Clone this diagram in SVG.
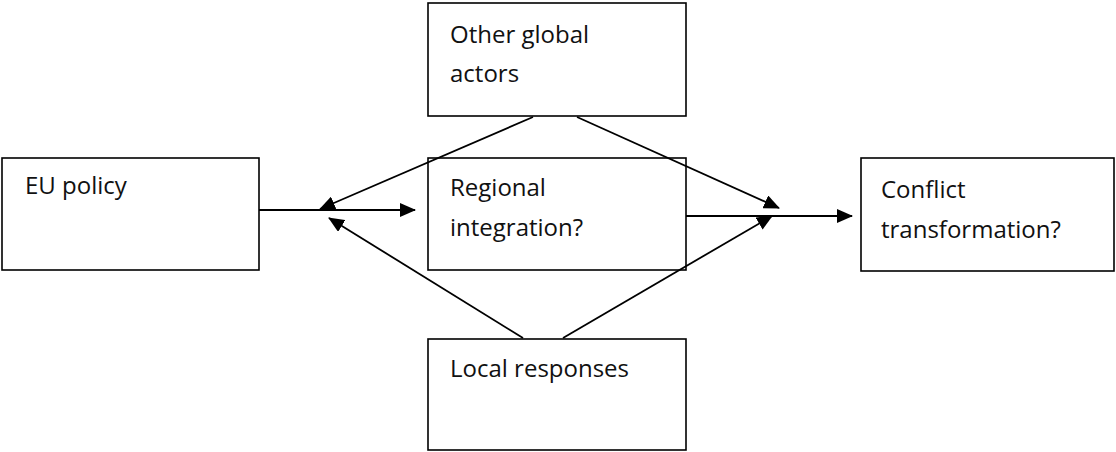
<svg xmlns="http://www.w3.org/2000/svg" width="1116" height="452" viewBox="0 0 1116 452">
<style>
.box{fill:#fff;stroke:#000;stroke-width:1.6}
.lbl{font-family:"Open Sans",Lato,sans-serif;font-size:24px;fill:#111}
.con{stroke:#000;stroke-width:1.8;fill:none;marker-end:url(#ah)}
</style>
<defs>
<marker id="ah" markerUnits="userSpaceOnUse" markerWidth="16" markerHeight="14" refX="15" refY="7" orient="auto">
<path d="M0,0 L16,7 L0,14 Z" fill="#000"/>
</marker>
</defs>
<rect width="1116" height="452" fill="#fff"/>
<g id="eu-policy"><rect class="box" x="2" y="158" width="257" height="112"/><text class="lbl" x="25" y="194">EU policy</text></g>
<g id="other-global-actors"><rect class="box" x="428" y="3" width="258" height="113"/><text class="lbl" x="450" y="43">Other global</text><text class="lbl" x="450" y="82">actors</text></g>
<g id="regional-integration"><rect class="box" x="428" y="158" width="258" height="112"/><text class="lbl" x="450" y="196">Regional</text><text class="lbl" x="450" y="236">integration?</text></g>
<g id="conflict-transformation"><rect class="box" x="861" y="158" width="253" height="113"/><text class="lbl" x="881" y="198">Conflict</text><text class="lbl" x="881" y="238">transformation?</text></g>
<g id="local-responses"><rect class="box" x="428" y="339" width="258" height="111"/><text class="lbl" x="450" y="377">Local responses</text></g>
<g id="connectors">
<line class="con" x1="259" y1="210" x2="415" y2="210"/>
<line class="con" x1="533" y1="117" x2="320" y2="209"/>
<line class="con" x1="523" y1="338" x2="329" y2="218"/>
<line class="con" x1="686" y1="216" x2="852" y2="216"/>
<line class="con" x1="577" y1="117" x2="779" y2="208"/>
<line class="con" x1="563" y1="338" x2="772" y2="216"/>
</g>
</svg>
